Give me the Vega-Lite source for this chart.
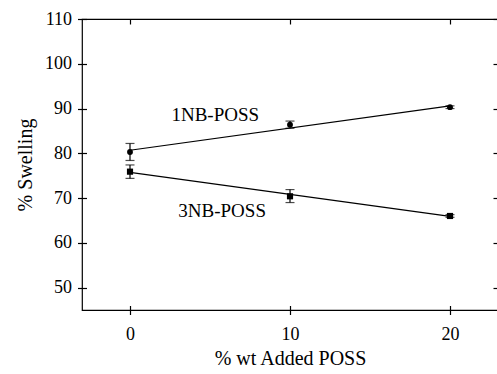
{
  "$schema": "https://vega.github.io/schema/vega-lite/v6.json",
  "width": 416,
  "height": 291,
  "autosize": "none",
  "padding": {"left": 82, "top": 19, "right": 0, "bottom": 64},
  "background": "white",
  "config": {
    "view": {"stroke": "black", "strokeWidth": 1.2},
    "font": "Liberation Serif",
    "axis": {"grid": false, "domain": false, "tickColor": "black", "tickWidth": 1.2, "labelColor": "black", "titleColor": "black", "labelFont": "Liberation Serif", "titleFont": "Liberation Serif", "labelFontSize": 18, "titleFontSize": 20, "titleFontWeight": "normal"}
  },
  "datasets": {
    "pts": [
      {"series": "1NB-POSS", "x": 0, "y": 80.3, "lo": 78.4, "hi": 82.2},
      {"series": "1NB-POSS", "x": 10, "y": 86.4, "lo": 85.6, "hi": 87.2},
      {"series": "1NB-POSS", "x": 20, "y": 90.3, "lo": 90.0, "hi": 90.6},
      {"series": "3NB-POSS", "x": 0, "y": 75.9, "lo": 74.4, "hi": 77.4},
      {"series": "3NB-POSS", "x": 10, "y": 70.4, "lo": 69.0, "hi": 71.9},
      {"series": "3NB-POSS", "x": 20, "y": 66.0, "lo": 65.7, "hi": 66.3}
    ],
    "fit": [
      {"series": "1NB-POSS", "x": 0, "y": 80.68},
      {"series": "1NB-POSS", "x": 20, "y": 90.58},
      {"series": "3NB-POSS", "x": 0, "y": 75.75},
      {"series": "3NB-POSS", "x": 20, "y": 65.9}
    ],
    "labels": [
      {"x": 5.33, "y": 88.5, "text": "1NB-POSS"},
      {"x": 5.76, "y": 67.2, "text": "3NB-POSS"}
    ]
  },
  "layer": [
    {
      "encoding": {
        "x": {"field": "x", "type": "quantitative", "scale": {"domain": [-3, 23], "nice": false, "zero": false},
          "axis": {"values": [0, 10, 20], "title": "% wt Added POSS", "offset": -4.5, "tickSize": 9, "labelPadding": 11, "titlePadding": 5}},
        "y": {"field": "y", "type": "quantitative", "scale": {"domain": [45, 110], "nice": false, "zero": false},
          "axis": {"values": [50, 60, 70, 80, 90, 100, 110], "title": "% Swelling", "offset": -4.5, "tickSize": 9, "labelPadding": 6, "titlePadding": 9}}
      },
      "layer": [
        {
          "data": {"name": "fit"},
          "mark": {"type": "line", "color": "black", "strokeWidth": 1.2},
          "encoding": {"detail": {"field": "series"}}
        },
        {
          "data": {"name": "pts"},
          "mark": {"type": "rule", "color": "black", "strokeWidth": 1.2},
          "encoding": {"y": {"field": "lo", "type": "quantitative"}, "y2": {"field": "hi"}}
        },
        {
          "data": {"name": "pts"},
          "mark": {"type": "tick", "orient": "horizontal", "color": "black", "size": 9, "thickness": 1.2},
          "encoding": {"y": {"field": "lo", "type": "quantitative"}}
        },
        {
          "data": {"name": "pts"},
          "mark": {"type": "tick", "orient": "horizontal", "color": "black", "size": 9, "thickness": 1.2},
          "encoding": {"y": {"field": "hi", "type": "quantitative"}}
        },
        {
          "data": {"name": "pts"},
          "transform": [{"filter": "datum.series == '1NB-POSS'"}],
          "mark": {"type": "point", "shape": "circle", "filled": true, "color": "black", "size": 34, "opacity": 1}
        },
        {
          "data": {"name": "pts"},
          "transform": [{"filter": "datum.series == '3NB-POSS'"}],
          "mark": {"type": "point", "shape": "square", "filled": true, "color": "black", "size": 38, "opacity": 1}
        },
        {
          "data": {"name": "labels"},
          "mark": {"type": "text", "font": "Liberation Serif", "fontSize": 19, "color": "black", "align": "center", "baseline": "middle"},
          "encoding": {"text": {"field": "text"}}
        }
      ]
    },
    {
      "data": {"name": "pts"},
      "mark": {"type": "point", "opacity": 0},
      "encoding": {
        "x": {"field": "x", "type": "quantitative", "scale": {"domain": [-3, 23], "nice": false, "zero": false}, "axis": {"orient": "top", "values": [0, 10, 20], "labels": false, "title": null, "offset": -5, "tickSize": 5}},
        "y": {"field": "y", "type": "quantitative", "scale": {"domain": [45, 110], "nice": false, "zero": false}, "axis": {"orient": "right", "values": [50, 60, 70, 80, 90, 100, 110], "labels": false, "title": null, "offset": -5, "tickSize": 5}}
      }
    }
  ],
  "resolve": {"axis": {"x": "independent", "y": "independent"}}
}
